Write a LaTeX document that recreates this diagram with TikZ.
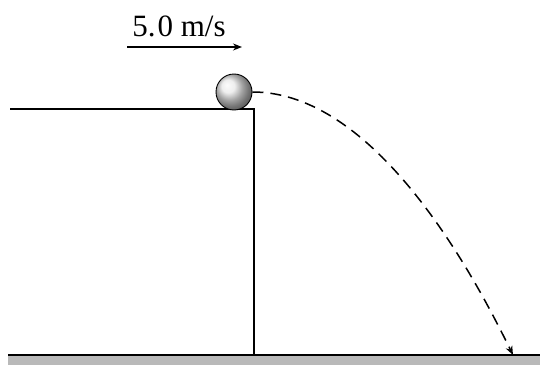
\documentclass[tikz,border=0pt]{standalone}
\usepackage{fontspec}
\setmainfont{Liberation Serif}
\usetikzlibrary{arrows.meta}
\begin{document}
\begin{tikzpicture}[
    x=1pt, y=1pt,
    wall/.style={line width=1.4pt},
    ball/.style={circle, draw, line width=0.9pt, minimum size=36pt, inner sep=0pt, ball color=gray!18},
    traj/.style={-{Stealth[length=9pt, width=7pt]}, line width=1.5pt, dash pattern=on 11pt off 7pt},
    vel/.style={-{Stealth[length=9pt, width=7pt]}, line width=1.4pt}
]
    \useasboundingbox (0,0) rectangle (540,365);

    % Ground strip and surface line
    \fill[gray!55] (8,0) rectangle (540,9);
    \draw[wall] (8,10) -- (540,10);

    % Cliff
    \draw[wall] (10,256) -- (254,256) -- (254,10);

    % Ball on the edge
    \node[ball] (ball) at (234,273) {};

    % Speed label and arrow
    \node[font=\fontsize{31}{36}\selectfont, anchor=base, inner sep=0pt] (speed) at (179,328) {5.\hspace{2pt}0 m/s};
    \coordinate (v0) at (127,318);
    \coordinate (v1) at (242,318);
    \draw[vel] (v0) -- (v1);

    % Trajectory down to the ground
    \coordinate (land) at (513,10);
    \draw[traj] (ball.east) parabola (land);

\end{tikzpicture}
\end{document}
